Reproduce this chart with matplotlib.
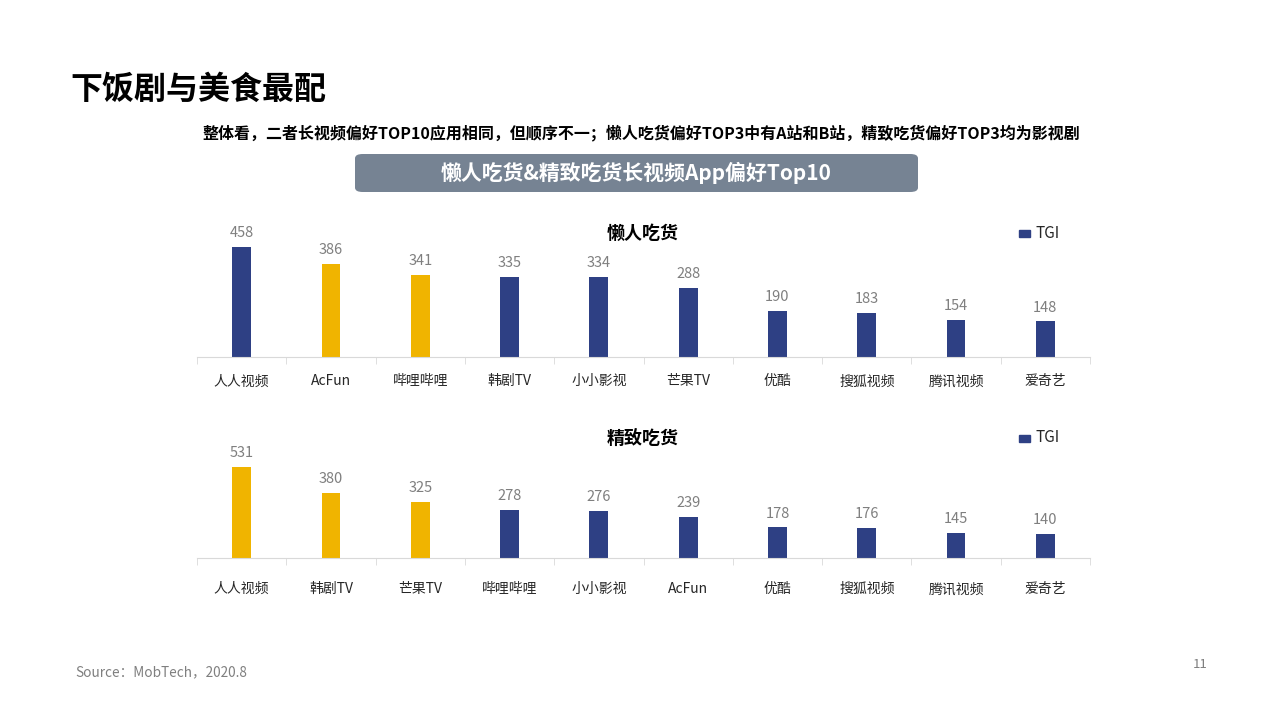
import numpy as np
import matplotlib.pyplot as plt
from matplotlib.patches import FancyBboxPatch

plt.rcParams['font.family'] = ['Noto Sans CJK SC', 'DejaVu Sans']

# data
cats_lazy = ['人人视频', 'AcFun', '哔哩哔哩', '韩剧TV', '小小影视', '芒果TV', '优酷', '搜狐视频', '腾讯视频', '爱奇艺']
tgi_lazy = [458, 386, 341, 335, 334, 288, 190, 183, 154, 148]
top3_lazy = [1, 2]

cats_fine = ['人人视频', '韩剧TV', '芒果TV', '哔哩哔哩', '小小影视', 'AcFun', '优酷', '搜狐视频', '腾讯视频', '爱奇艺']
tgi_fine = [531, 380, 325, 278, 276, 239, 178, 176, 145, 140]
top3_fine = [0, 1, 2]

NAVY = '#2E4084'
GOLD = '#F0B400'
W, H = 1280, 720

fig = plt.figure(figsize=(12.8, 7.2), dpi=100)


def px_axes(x0, y0, x1, y1):
    # pixel box (top-left origin) -> figure axes
    return fig.add_axes([x0 / W, 1 - y1 / H, (x1 - x0) / W, (y1 - y0) / H])


def draw_panel(ax, cats, vals, hl, ymax, title, ty, pad):
    x = np.arange(len(cats))
    colors = [GOLD if i in hl else NAVY for i in x]
    ax.bar(x, vals, width=0.21, color=colors, zorder=2)
    for xi, v in zip(x, vals):
        ax.annotate(str(v), (xi, v), xytext=(0, 5), textcoords='offset points',
                    ha='center', va='bottom', fontsize=10.5, color='#7F7F7F')
    ax.set_xlim(-0.5, len(cats) - 0.5)
    ax.set_ylim(0, ymax)
    ax.set_xticks(x)
    ax.set_xticklabels(cats, fontsize=10, color='#262626')
    ax.set_xticks(np.arange(-0.5, len(cats)), minor=True)
    ax.tick_params(axis='x', which='major', length=0, pad=pad)
    ax.tick_params(axis='x', which='minor', length=5, color='#D9D9D9')
    ax.set_yticks([])
    for s in ['top', 'right', 'left']:
        ax.spines[s].set_visible(False)
    ax.spines['bottom'].set_color('#D9D9D9')
    fig.text(643 / W, 1 - ty / H, title, ha='center', va='center',
             fontsize=13, fontweight='bold', color='#000000')
    # legend
    fig.patches.append(plt.Rectangle((1019 / W, 1 - (ty + 4) / H), 11 / W, 7 / H,
                                     transform=fig.transFigure, color=NAVY))
    fig.text(1036 / W, 1 - ty / H, 'TGI', ha='left', va='center',
             fontsize=11, color='#262626')


ax1 = px_axes(197, 213, 1090, 357)
draw_panel(ax1, cats_lazy, tgi_lazy, top3_lazy, 600, '懒人吃货', 233, 12.5)

ax2 = px_axes(197, 438, 1090, 558)
draw_panel(ax2, cats_fine, tgi_fine, top3_fine, 700, '精致吃货', 438, 17.5)

# header texts
fig.text(70 / W, 1 - 90 / H, '下饭剧与美食最配', ha='left', va='center',
         fontsize=23, fontweight='bold', color='#000000')
fig.text(1080 / W, 1 - 133 / H,
         '整体看，二者长视频偏好TOP10应用相同，但顺序不一；懒人吃货偏好TOP3中有A站和B站，精致吃货偏好TOP3均为影视剧',
         ha='right', va='center', fontsize=11.5, fontweight='bold', color='#000000')

box = FancyBboxPatch((355 / W, 1 - 192 / H), 563 / W, 38 / H,
                     boxstyle='round,pad=0,rounding_size=0.006',
                     transform=fig.transFigure, facecolor='#768393', edgecolor='none')
fig.patches.append(box)
fig.text(636 / W, 1 - 173 / H, '懒人吃货&精致吃货长视频App偏好Top10', ha='center', va='center',
         fontsize=15, fontweight='bold', color='white')

fig.text(75 / W, 1 - 672 / H, 'Source：MobTech，2020.8', ha='left', va='center',
         fontsize=9.8, color='#7F7F7F')
fig.text(1208 / W, 1 - 665 / H, '11', ha='right', va='center',
         fontsize=9.5, color='#7F7F7F')

fig.savefig('out.png', dpi=100)
